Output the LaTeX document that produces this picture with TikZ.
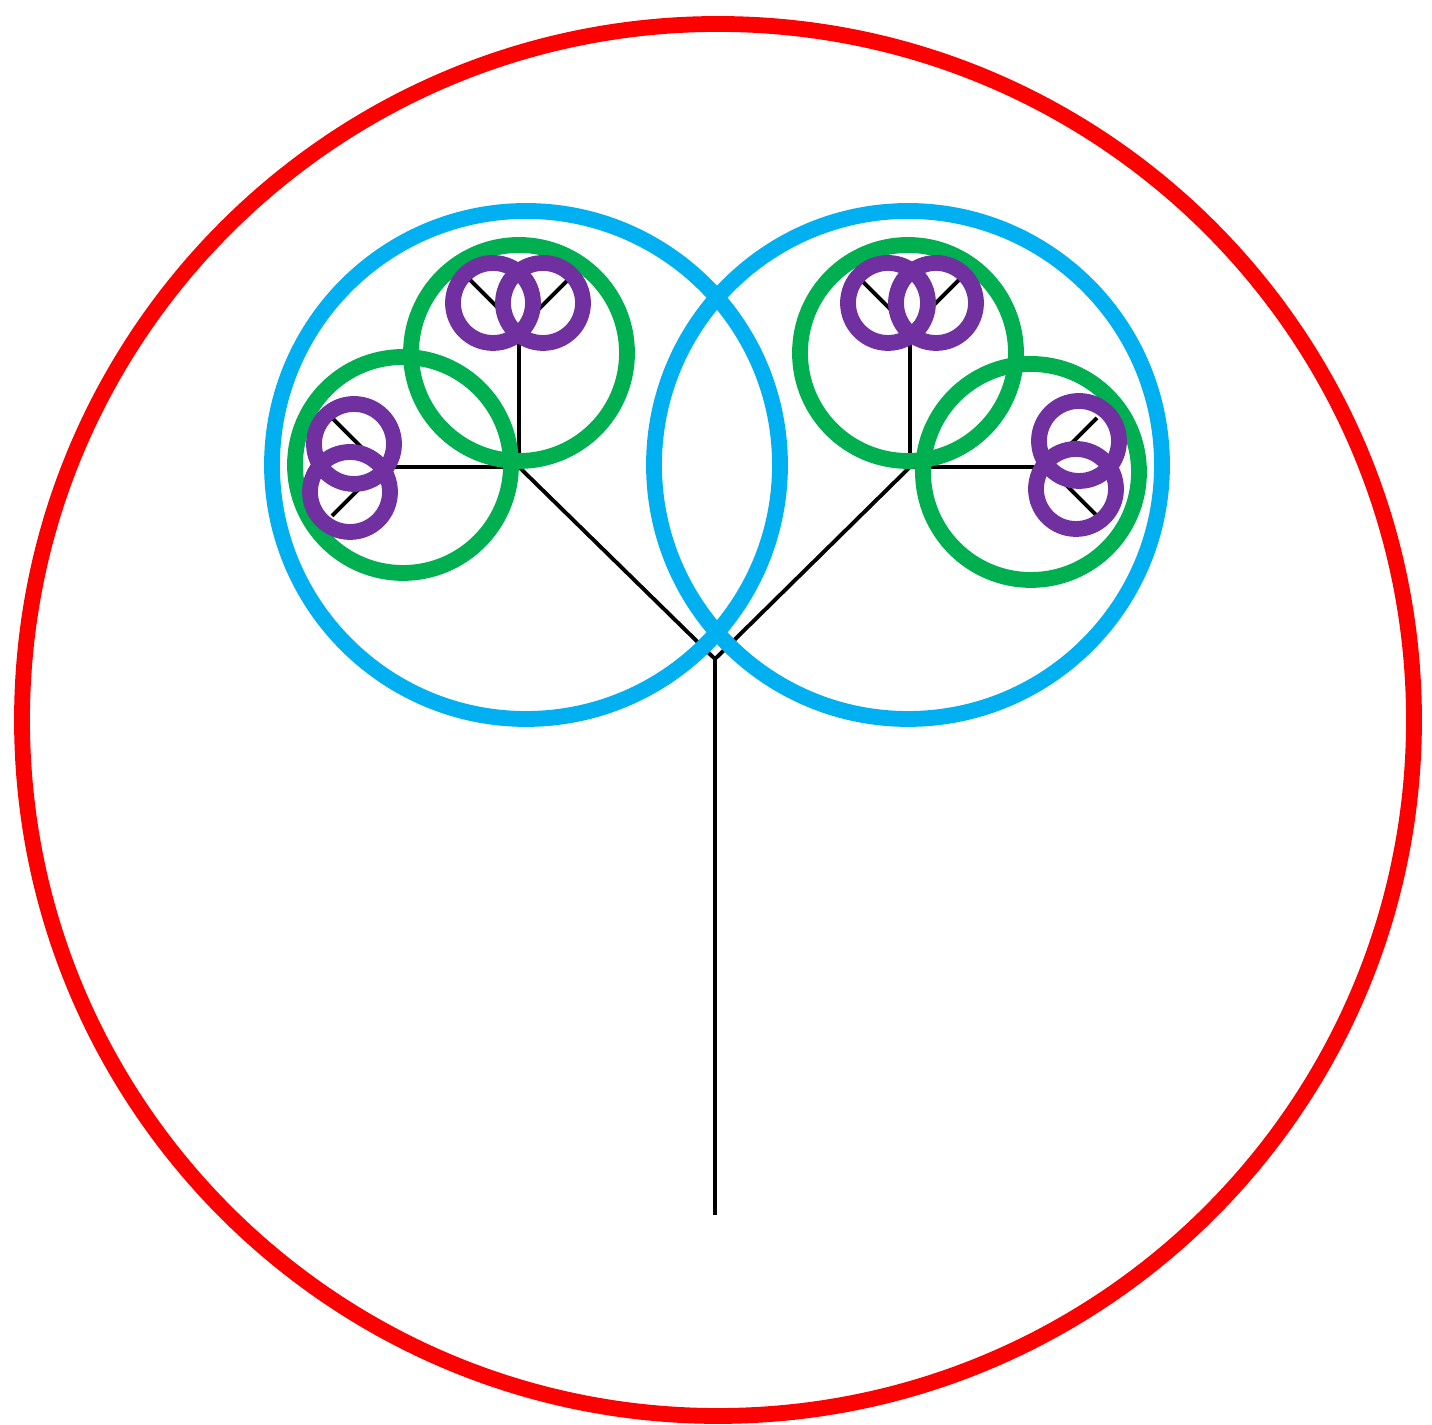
\documentclass[tikz,border=0pt]{standalone}
\usepackage{xcolor}
\usepackage{tikz}
\definecolor{ringred}{HTML}{FF0000}
\definecolor{ringblue}{HTML}{00B0F0}
\definecolor{ringgreen}{HTML}{00B050}
\definecolor{ringpurple}{HTML}{7030A0}

\begin{document}
\begin{tikzpicture}[x=0.01cm, y=0.01cm,
    branch/.style={draw=black, line width=1.1pt},
    ring/.style={draw=#1, line width=4.5pt}]
    \useasboundingbox (0,0) rectangle (1432,1425);
    \coordinate (root) at (715,210);
    \coordinate (fork) at (715,766);
    \coordinate (l) at (519,958);
    \coordinate (r) at (910,958);
    \coordinate (lu) at (519,1096);
    \coordinate (ls) at (381,958);
    \coordinate (ru) at (910,1096);
    \coordinate (rs) at (1048,958);
    \coordinate (lua) at (470,1145);
    \coordinate (lub) at (568,1145);
    \coordinate (lsa) at (332,1007);
    \coordinate (lsb) at (332,909);
    \coordinate (rua) at (861,1145);
    \coordinate (rub) at (959,1145);
    \coordinate (rsa) at (1097,1007);
    \coordinate (rsb) at (1097,909);
    \draw[branch] (root) -- (fork);
    \draw[branch] (fork) -- (l);
    \draw[branch] (fork) -- (r);
    \draw[branch] (l) -- (lu);
    \draw[branch] (l) -- (ls);
    \draw[branch] (r) -- (ru);
    \draw[branch] (r) -- (rs);
    \draw[branch] (lu) -- (lua);
    \draw[branch] (lu) -- (lub);
    \draw[branch] (ls) -- (lsa);
    \draw[branch] (ls) -- (lsb);
    \draw[branch] (ru) -- (rua);
    \draw[branch] (ru) -- (rub);
    \draw[branch] (rs) -- (rsa);
    \draw[branch] (rs) -- (rsb);
    \draw[ring=ringred] (718,705) circle (696);
    \draw[ring=ringblue] (526,960) circle (254);
    \draw[ring=ringblue] (908,960) circle (254);
    \draw[ring=ringgreen] (519,1072) circle (108);
    \draw[ring=ringgreen] (403,960) circle (108);
    \draw[ring=ringgreen] (908,1072) circle (108);
    \draw[ring=ringgreen] (1031,953) circle (108);
    \foreach \p in {(493,1122), (543,1122), (354,981), (350,933), (888,1122), (936,1122), (1079,984), (1076,936)}
        \draw[ring=ringpurple] \p circle (40);
\end{tikzpicture}
\end{document}
